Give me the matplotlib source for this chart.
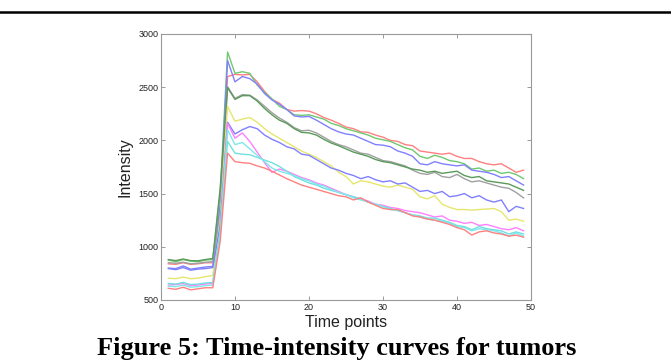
import matplotlib
matplotlib.use("Agg")
import matplotlib.pyplot as plt

# time points 1..49
time_points = list(range(1, 50))

# intensity curves (one list per tumour)
red_top = [840, 835, 850, 835, 840, 850, 850, 1350, 2600,
           2620, 2615, 2620, 2550, 2460, 2385, 2350, 2290, 2275, 2280,
           2275, 2250, 2215, 2190, 2160, 2125, 2110, 2080, 2075, 2050,
           2030, 2000, 1990, 1960, 1950, 1900, 1890, 1880, 1870, 1880,
           1850, 1830, 1830, 1800, 1780, 1770, 1780, 1740, 1700, 1720]
green_top = [875, 860, 880, 865, 860, 875, 880, 1500, 2830,
             2630, 2645, 2630, 2520, 2450, 2390, 2320, 2290, 2240, 2235,
             2240, 2220, 2200, 2160, 2140, 2110, 2090, 2070, 2050, 2020,
             2005, 1990, 1960, 1930, 1910, 1850, 1830, 1860, 1840, 1810,
             1800, 1780, 1730, 1740, 1710, 1720, 1690, 1700, 1680, 1640]
blue_top = [800, 795, 820, 790, 800, 810, 815, 1400, 2750,
            2550, 2600, 2580, 2530, 2440, 2380, 2340, 2290, 2230, 2220,
            2225, 2190, 2150, 2110, 2080, 2060, 2050, 2020, 1990, 1960,
            1955, 1940, 1900, 1880, 1850, 1780, 1770, 1800, 1780, 1770,
            1760, 1770, 1720, 1710, 1700, 1680, 1650, 1660, 1620, 1580]
gray = [850, 845, 855, 840, 845, 855, 860, 1300, 2505,
        2395, 2430, 2425, 2380, 2320, 2260, 2210, 2170, 2120, 2090,
        2095, 2070, 2030, 1990, 1960, 1940, 1910, 1880, 1870, 1840,
        1810, 1800, 1780, 1760, 1720, 1690, 1680, 1700, 1660, 1650,
        1680, 1640, 1610, 1620, 1600, 1580, 1560, 1550, 1510, 1460]
dark_green = [880, 870, 885, 870, 868, 880, 890, 1550, 2495,
              2385, 2420, 2420, 2370, 2300, 2240, 2190, 2160, 2110, 2075,
              2070, 2050, 2010, 1975, 1950, 1920, 1890, 1870, 1850, 1820,
              1800, 1790, 1770, 1750, 1730, 1720, 1700, 1710, 1690, 1700,
              1710, 1670, 1650, 1660, 1620, 1610, 1600, 1590, 1560, 1530]
yellow = [705, 700, 715, 700, 705, 720, 730, 1250, 2320,
          2180, 2200, 2215, 2170, 2110, 2060, 2020, 1980, 1940, 1900,
          1870, 1840, 1800, 1760, 1700, 1660, 1590, 1620, 1610, 1590,
          1570, 1560, 1580, 1560, 1540, 1470, 1450, 1480, 1400, 1370,
          1350, 1350, 1345, 1350, 1355, 1360, 1330, 1250, 1260, 1240]
blue_mid = [795, 785, 805, 780, 790, 795, 805, 1200, 2170,
            2060, 2100, 2130, 2110, 2050, 2010, 1980, 1940, 1920, 1870,
            1860, 1820, 1780, 1740, 1720, 1690, 1670, 1640, 1660, 1630,
            1610, 1620, 1590, 1600, 1560, 1520, 1530, 1500, 1520, 1470,
            1480, 1500, 1460, 1480, 1440, 1420, 1440, 1330, 1380, 1360]
magenta = [640, 645, 655, 635, 640, 650, 655, 1100, 2160,
           2020, 2070, 1990, 1890, 1790, 1700, 1730, 1710, 1680, 1650,
           1630, 1600, 1580, 1550, 1520, 1490, 1470, 1450, 1430, 1400,
           1390, 1370, 1360, 1340, 1330, 1320, 1300, 1280, 1290, 1250,
           1240, 1220, 1230, 1200, 1210, 1190, 1170, 1160, 1180, 1150]
cyan_1 = [655, 650, 665, 645, 650, 660, 665, 1150, 1990,
          1880, 1870, 1865, 1840, 1815, 1790, 1755, 1710, 1660, 1630,
          1600, 1580, 1550, 1530, 1510, 1490, 1470, 1450, 1420, 1400,
          1380, 1360, 1340, 1320, 1300, 1290, 1270, 1270, 1250, 1230,
          1200, 1190, 1160, 1190, 1170, 1160, 1150, 1120, 1140, 1120]
cyan_2 = [630, 625, 640, 620, 625, 635, 640, 1100, 2100,
          1960, 1980, 1920, 1860, 1800, 1740, 1710, 1690, 1670, 1640,
          1620, 1590, 1570, 1540, 1510, 1490, 1460, 1440, 1420, 1400,
          1375, 1350, 1340, 1320, 1300, 1280, 1260, 1250, 1240, 1220,
          1190, 1180, 1150, 1170, 1160, 1150, 1130, 1100, 1130, 1100]
red_low = [610, 600, 620, 595, 605, 615, 615, 1050, 1880,
           1800, 1790, 1785, 1760, 1740, 1710, 1675, 1640, 1610, 1580,
           1560, 1540, 1520, 1500, 1480, 1470, 1440, 1460, 1420, 1390,
           1360, 1350, 1350, 1320, 1290, 1280, 1260, 1250, 1230, 1210,
           1180, 1160, 1110, 1140, 1150, 1130, 1120, 1100, 1110, 1090]

curves = [red_top, green_top, blue_top, gray, dark_green, yellow,
          blue_mid, magenta, cyan_1, cyan_2, red_low]
colors = ['#ff8080', '#70c870', '#8080ff', '#a0a0a0', '#5a9a5a', '#e6e66e',
          '#8080ff', '#ff80ff', '#70e0e0', '#80e8e8', '#ff8080']

x_ticks = [0, 10, 20, 30, 40, 50]
y_ticks = [500, 1000, 1500, 2000, 2500, 3000]

plt.rcParams['font.family'] = ['Liberation Sans', 'DejaVu Sans']

fig = plt.figure(figsize=(6.71, 3.6), dpi=100)
ax = fig.add_axes([0.2399, 0.1667, 0.5514, 0.739])

for vals, c in zip(curves, colors):
    ax.plot(time_points, vals, color=c, linewidth=1.0)

ax.set_xlim(0, 50)
ax.set_ylim(500, 3000)
ax.set_xticks(x_ticks)
ax.set_yticks(y_ticks)
ax.tick_params(direction='in', length=3, width=0.6, colors='#888888',
               labelcolor='#222222', labelsize=6.5, top=True, right=True, pad=2)
for s in ax.spines.values():
    s.set_color('#999999')
    s.set_linewidth(0.8)

ax.set_xlabel('Time points', fontsize=11.5, labelpad=2, color='#222222')
ax.set_ylabel('Intensity', fontsize=11.5, labelpad=4, color='#222222')

# rule at the top of the page and the caption underneath
fig.add_artist(plt.Line2D([0, 1], [0.9667, 0.9667], color='black', linewidth=1.8))
fig.text(0.5015, 0.013, 'Figure 5: Time-intensity curves for tumors',
         ha='center', va='baseline', fontsize=19, fontweight='bold',
         family='Liberation Serif')

fig.savefig('out.png', dpi=100)
